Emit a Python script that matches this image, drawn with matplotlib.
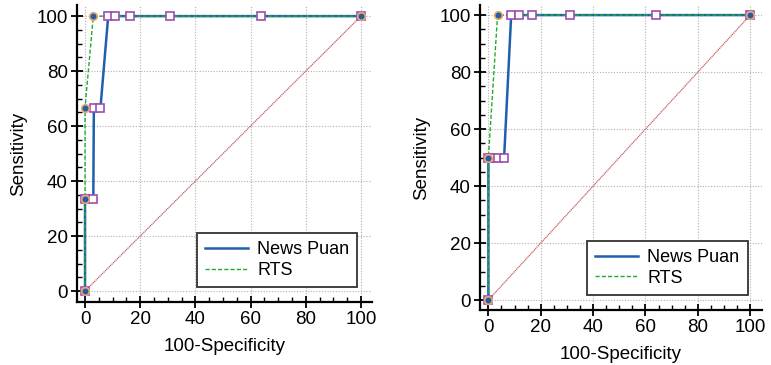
import matplotlib
matplotlib.use('Agg')
import matplotlib.pyplot as plt
from matplotlib.ticker import MultipleLocator

plt.rcParams['font.family'] = ['Liberation Sans', 'DejaVu Sans']

# left panel: ROC points (100-Specificity, Sensitivity)
left_news_x = [0, 0, 3.0, 3.2, 5.6, 8.4, 10.9, 16.3, 30.8, 63.8, 100]
left_news_y = [0, 33.3, 33.3, 66.7, 66.7, 100, 100, 100, 100, 100, 100]
left_rts_x = [0, 0, 0, 3.0, 100]
left_rts_y = [0, 33.3, 66.7, 100, 100]

# right panel
right_news_x = [0, 0, 1.5, 3.5, 6.0, 8.7, 11.6, 16.7, 31.3, 64.0, 100]
right_news_y = [0, 50, 50, 50, 50, 100, 100, 100, 100, 100, 100]
right_rts_x = [0, 0, 3.5, 100]
right_rts_y = [0, 50, 100, 100]

ticks = [0, 20, 40, 60, 80, 100]
FS = 13.5


def draw(ax, nx, ny, rx, ry, xlim, ylim):
    ax.plot([0, 100], [0, 100], color='#c86060', lw=0.9, ls=(0, (1, 0.5)), zorder=2)
    ax.plot(nx, ny, color='#1f5fad', lw=1.8, label='News Puan', zorder=3)
    ax.plot(rx, ry, color='#22aa33', lw=1.0, ls=(0, (3, 1.5)), label='RTS', zorder=4)
    ax.plot(nx, ny, ls='none', marker='s', ms=6, mfc='white', mec='#9a4fb0',
            mew=1.2, zorder=5)
    ax.plot(rx, ry, ls='none', marker='o', ms=5.5, mfc='#1f5fad', mec='#f2a866',
            mew=1.2, zorder=6)
    ax.set_xlim(*xlim)
    ax.set_ylim(*ylim)
    ax.set_xticks(ticks)
    ax.set_yticks(ticks)
    ax.xaxis.set_minor_locator(MultipleLocator(5))
    ax.yaxis.set_minor_locator(MultipleLocator(5))
    ax.grid(True, which='major', color='#b0b0b0', ls=(0, (1, 1.5)), lw=0.8)
    ax.set_axisbelow(True)
    for s in ['top', 'right']:
        ax.spines[s].set_visible(False)
    for s in ['left', 'bottom']:
        ax.spines[s].set_linewidth(1.6)
    ax.tick_params(which='major', direction='inout', length=9, width=1.3,
                   labelsize=FS, pad=2)
    ax.tick_params(which='minor', direction='in', length=3.5, width=1.0)
    ax.set_xlabel('100-Specificity', fontsize=FS, labelpad=7)
    ax.set_ylabel('Sensitivity', fontsize=FS, labelpad=7)
    leg = ax.legend(loc='lower right', bbox_to_anchor=(0.95, 0.05), fontsize=13,
                    fancybox=False, framealpha=1, edgecolor='#333333',
                    handlelength=2.4, handletextpad=0.5, borderpad=0.45,
                    labelspacing=0.2, borderaxespad=0)
    leg.get_frame().set_linewidth(1.3)


fig = plt.figure(figsize=(7.71, 3.65), dpi=100)
ax1 = fig.add_axes([0.0999, 0.1726, 0.3826, 0.8134])
ax2 = fig.add_axes([0.6226, 0.1507, 0.3654, 0.8353])

draw(ax1, left_news_x, left_news_y, left_rts_x, left_rts_y, (-2.9, 104), (-4, 104))
draw(ax2, right_news_x, right_news_y, right_rts_x, right_rts_y, (-3.2, 104.4), (-3.5, 103.5))

fig.savefig('out.png', dpi=100)
